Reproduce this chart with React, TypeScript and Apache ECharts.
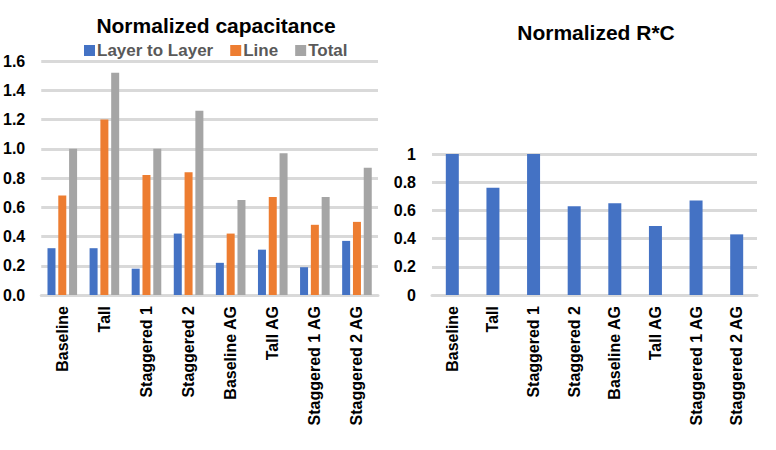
import React, { useEffect, useRef } from "react";
import * as echarts from "echarts";

const categories = ["Baseline", "Tall", "Staggered 1", "Staggered 2", "Baseline AG", "Tall AG", "Staggered 1 AG", "Staggered 2 AG"];
const layerToLayer = [0.32, 0.32, 0.18, 0.42, 0.22, 0.31, 0.19, 0.37];
const lineCap = [0.68, 1.2, 0.82, 0.84, 0.42, 0.67, 0.48, 0.5];
const totalCap = [1.0, 1.52, 1.0, 1.26, 0.65, 0.97, 0.67, 0.87];
const rcValues = [1.0, 0.76, 1.0, 0.63, 0.65, 0.49, 0.67, 0.43];
const seriesNames = ["Layer to Layer", "Line", "Total"];
const titles = ["Normalized capacitance", "Normalized R*C"];

const FONT = "'Liberation Sans', Arial, sans-serif";
const GRID_COLOR = "#d9d9d9";

export default function App() {
  const ref = useRef<HTMLDivElement>(null);
  useEffect(() => {
    if (!ref.current) return;
    const chart = echarts.init(ref.current, undefined, { renderer: "svg" });
    const xAxisCommon = (gridIndex: number) => ({
      type: "category" as const,
      gridIndex,
      data: categories,
      axisTick: { show: false },
      axisLine: { lineStyle: { color: GRID_COLOR, width: 3 } },
      axisLabel: {
        rotate: 90,
        interval: 0,
        margin: 11,
        color: "#000",
        fontWeight: "bold" as const,
        fontSize: 16,
        fontFamily: FONT,
      },
    });
    const yLabel = {
      color: "#000",
      fontWeight: "bold" as const,
      fontSize: 16,
      fontFamily: FONT,
    };
    chart.setOption({
      animation: false,
      backgroundColor: "#fff",
      title: [
        {
          text: titles[0],
          left: 211,
          top: 10,
          textAlign: "center",
          textStyle: { fontSize: 21, fontWeight: "bold", color: "#000", fontFamily: FONT },
        },
        {
          text: titles[1],
          left: 591,
          top: 17,
          textAlign: "center",
          textStyle: { fontSize: 21, fontWeight: "bold", color: "#000", fontFamily: FONT },
        },
      ],
      legend: {
        data: seriesNames,
        left: 79,
        top: 37,
        icon: "rect",
        itemWidth: 11,
        itemHeight: 11,
        itemGap: 17,
        textStyle: { color: "#595959", fontWeight: "bold", fontSize: 17, fontFamily: FONT, padding: [0, 0, 0, -3] },
      },
      grid: [
        { left: 41, right: 398, top: 61, bottom: 155, containLabel: false },
        { left: 432, right: 19, top: 154, bottom: 155, containLabel: false },
      ],
      xAxis: [xAxisCommon(0), xAxisCommon(1)],
      yAxis: [
        {
          type: "value",
          gridIndex: 0,
          min: 0,
          max: 1.6,
          interval: 0.2,
          axisLabel: { ...yLabel, margin: 16, formatter: (v: number) => v.toFixed(1) },
          splitLine: { lineStyle: { color: GRID_COLOR, width: 3 } },
          axisLine: { show: false },
          axisTick: { show: false },
        },
        {
          type: "value",
          gridIndex: 1,
          min: 0,
          max: 1,
          interval: 0.2,
          axisLabel: { ...yLabel, margin: 16 },
          splitLine: { lineStyle: { color: GRID_COLOR, width: 3 } },
          axisLine: { show: false },
          axisTick: { show: false },
        },
      ],
      series: [
        { name: seriesNames[0], type: "bar", xAxisIndex: 0, yAxisIndex: 0, data: layerToLayer, barWidth: 8, barGap: "35%", itemStyle: { color: "#4472C4" } },
        { name: seriesNames[1], type: "bar", xAxisIndex: 0, yAxisIndex: 0, data: lineCap, barWidth: 8, barGap: "35%", itemStyle: { color: "#ED7D31" } },
        { name: seriesNames[2], type: "bar", xAxisIndex: 0, yAxisIndex: 0, data: totalCap, barWidth: 8, barGap: "35%", itemStyle: { color: "#A5A5A5" } },
        { name: "R*C", type: "bar", xAxisIndex: 1, yAxisIndex: 1, data: rcValues, barWidth: 13, itemStyle: { color: "#4472C4" } },
      ],
    });
    return () => chart.dispose();
  }, []);
  return <div ref={ref} style={{ position: "fixed", left: 0, top: 0, width: 776, height: 450 }} />;
}
